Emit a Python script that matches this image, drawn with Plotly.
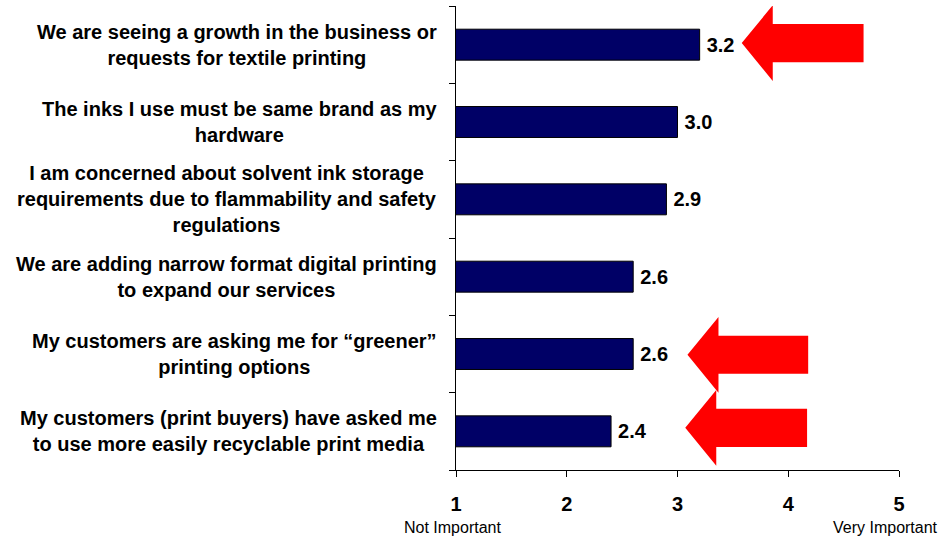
import plotly.graph_objects as go

# Survey statements (top to bottom) and their mean importance scores (1-5 scale)
statements = [
    "We are seeing a growth in the business or<br>requests for textile printing",
    "The inks I use must be same brand as my<br>hardware",
    "I am concerned about solvent ink storage<br>requirements due to flammability and safety<br>regulations",
    "We are adding narrow format digital printing<br>to expand our services",
    "My customers are asking me for \u201cgreener\u201d<br>printing options",
    "My customers (print buyers) have asked me<br>to use more easily recyclable print media",
]
scores = [3.2, 3.0, 2.9, 2.6, 2.6, 2.4]

scale_ticks = [1, 2, 3, 4, 5]
scale_low_label = "Not Important"
scale_high_label = "Very Important"

# Statements highlighted with a red arrow
highlighted = [0, 4, 5]

FONT = "Liberation Sans, Arial, sans-serif"
NAVY = "#000066"

fig = go.Figure()
fig.add_trace(go.Bar(
    x=scores,
    y=list(range(len(statements))),
    orientation="h",
    width=0.4,
    marker=dict(color=NAVY, line=dict(color="black", width=1)),
    texttemplate="\u2009%{x:.1f}",
    textposition="outside",
    constraintext="none",
    textfont=dict(family=FONT, size=20, color="black", weight="bold"),
    hoverinfo="skip",
))

# Statement labels, centred text blocks to the left of the axis
annotations = []
for i, s in enumerate(statements):
    annotations.append(dict(
        x=0, xref="paper", xanchor="right", xshift=-17,
        y=i, yref="y", yanchor="middle",
        text=s, align="center", showarrow=False,
        font=dict(family=FONT, size=20, color="black", weight="bold"),
    ))

# End-of-scale captions under the axis
annotations.append(dict(
    x=scale_ticks[0], xref="x", y=0, yref="paper", yanchor="middle", yshift=-57,
    xshift=-4, text=scale_low_label, showarrow=False,
    font=dict(family=FONT, size=16, color="black"),
))
annotations.append(dict(
    x=scale_ticks[-1], xref="x", xanchor="right", xshift=41,
    y=0, yref="paper", yanchor="middle", yshift=-57,
    text=scale_high_label, showarrow=False,
    font=dict(family=FONT, size=16, color="black"),
))


def left_arrow(tip_x, yc, head_len=0.28, head_half=0.49, shaft_end=None, shaft_half=0.246):
    hb = tip_x + head_len
    return (f"M {tip_x},{yc} L {hb},{yc - head_half} L {hb},{yc - shaft_half} "
            f"L {shaft_end},{yc - shaft_half} L {shaft_end},{yc + shaft_half} "
            f"L {hb},{yc + shaft_half} L {hb},{yc + head_half} Z")


arrow_specs = {
    0: dict(tip_x=3.58, yc=-0.02, shaft_end=4.68),
    4: dict(tip_x=3.09, yc=4.01, shaft_end=4.18),
    5: dict(tip_x=3.07, yc=4.955, shaft_end=4.17),
}
shapes = []
for i in highlighted:
    shapes.append(dict(
        type="path", xref="x", yref="y",
        path=left_arrow(**arrow_specs[i]),
        fillcolor="#ff0000", line=dict(width=0), layer="above",
    ))

fig.update_layout(
    width=943, height=536,
    margin=dict(l=456, r=44, t=6, b=66),
    paper_bgcolor="white", plot_bgcolor="white",
    showlegend=False,
    annotations=annotations,
    shapes=shapes,
    xaxis=dict(
        range=[1, 5], tickvals=scale_ticks,
        ticks="outside", ticklen=6, tickcolor="black", tickwidth=1,
        showline=True, linecolor="black", linewidth=1,
        showgrid=False, zeroline=False,
        tickfont=dict(family=FONT, size=20, color="black", weight="bold"),
        ticklabelstandoff=10,
    ),
    yaxis=dict(
        range=[5.5, -0.5],
        tickvals=[i + 0.5 for i in range(-1, len(statements))],
        ticks="outside", ticklen=6, tickcolor="black", tickwidth=1,
        showticklabels=False,
        showline=True, linecolor="black", linewidth=1,
        showgrid=False, zeroline=False,
    ),
)

fig.write_html("out.html")
